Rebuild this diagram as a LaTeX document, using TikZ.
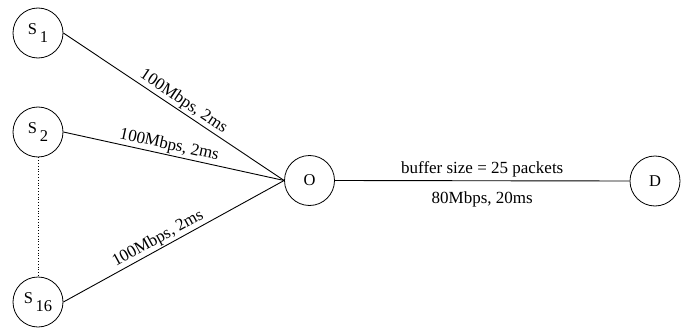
\documentclass[tikz,border=0pt]{standalone}
\usepackage{fontspec}
\setmainfont{Liberation Serif}
\begin{document}
\begin{tikzpicture}[x=1pt,y=-1pt,
  host/.style={draw,circle,minimum size=50pt,inner sep=0pt,line width=0.8pt,font=\fontsize{16.5}{19}\selectfont},
  link/.style={line width=0.9pt},
  lbl/.style={font=\fontsize{17}{20}\selectfont,inner sep=1.5pt}]
\useasboundingbox (0,0) rectangle (696,329);
\newcommand{\hostlabel}[1]{S\,\raisebox{-0.45em}{#1}}
\node[host] (s1) at (38,33) {\hostlabel{1}};
\node[host] (s2) at (38,132) {\hostlabel{2}};
\node[host] (s16) at (38,302) {\hostlabel{16}};
\node[host] (o) at (309.5,180.5) {O};
\node[host] (d) at (655,181) {D};
\draw[link] (s1.east) -- node[lbl,sloped,above,pos=0.52] {100Mbps, 2ms} (o.west);
\draw[link] (s2.east) -- node[lbl,sloped,above,pos=0.47] {100Mbps, 2ms} (o.west);
\draw[link] (s16.east) -- node[lbl,sloped,above,pos=0.45] {100Mbps, 2ms} (o.west);
\draw[line width=0.8pt,dotted] (s2.south) -- (s16.north);
\draw[link] (o.east) -- node[lbl,above=2pt] {buffer size = 25 packets} node[lbl,below=9pt] {80Mbps, 20ms} (d.west);
\end{tikzpicture}
\end{document}
